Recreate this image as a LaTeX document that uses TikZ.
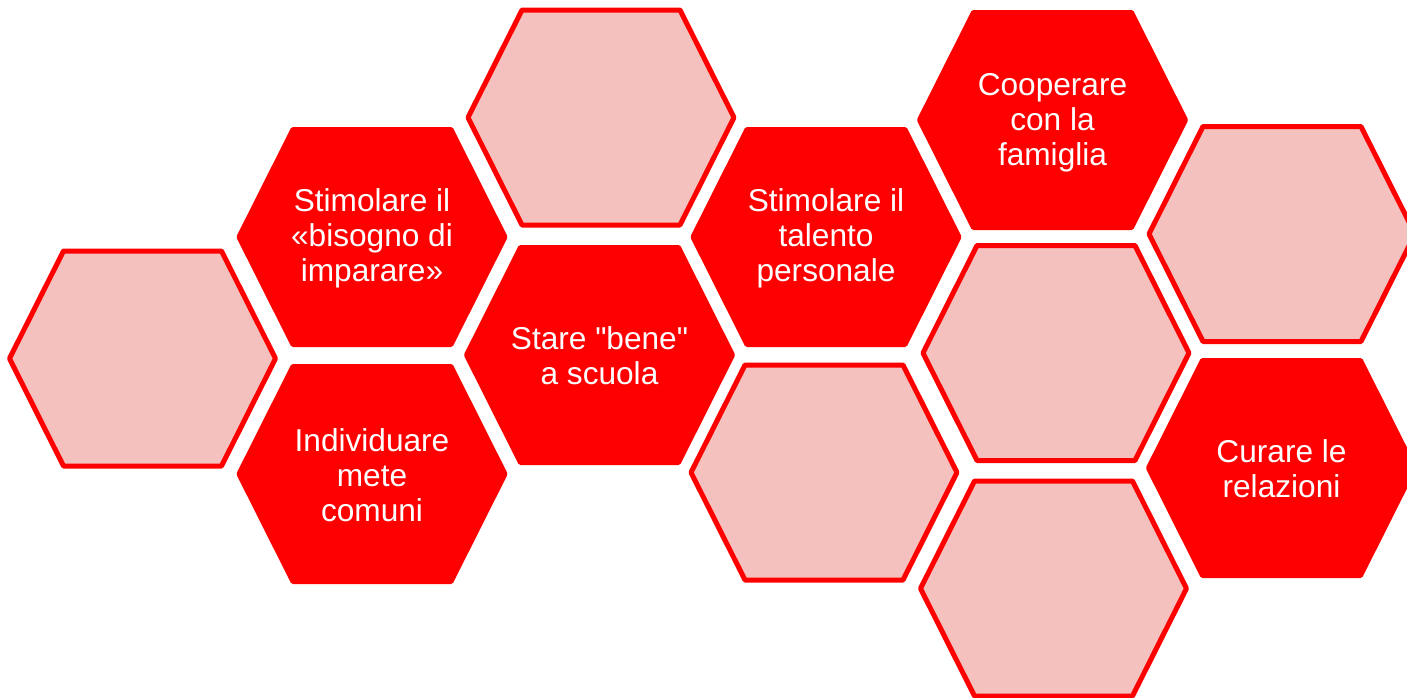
\documentclass[tikz,border=0pt]{standalone}
\usepackage{fontspec}
\setmainfont{Liberation Sans}[Ligatures=TeXOff]
\usepackage{tikz}
\usetikzlibrary{positioning}

\definecolor{hexred}{RGB}{255,0,0}
\definecolor{hexpink}{RGB}{245,193,190}

\begin{document}
\begin{tikzpicture}[x=0.02cm,y=-0.02cm,
		fullcell/.style={draw=hexred,fill=hexred,line width=0.1cm,line join=round},
		palecell/.style={draw=hexred,fill=hexpink,line width=0.1cm,line join=round},
		celltext/.style={text=white,align=center,inner sep=0pt,font=\fontsize{18}{20}\selectfont}]

	\useasboundingbox (0,0) rectangle (1407,697);

	% the honeycomb
	\foreach \x/\y/\kind in {142.5/358.5/palecell, 372/237/fullcell, 372/474/fullcell,
			601/117.5/palecell, 599.5/355/fullcell, 826/237/fullcell, 824/472.5/palecell,
			1052.5/120/fullcell, 1056/353/palecell, 1053.5/588.5/palecell,
			1282/234/palecell, 1281.5/468/fullcell}
		\draw[\kind] (\x,\y) +(-133,0) -- +(-79,-107.5) -- +(79,-107.5)
			-- +(133,0) -- +(79,107.5) -- +(-79,107.5) -- cycle;

	\node[celltext] (bisogno) at (372,238.5) {Stimolare il\\«bisogno di\\imparare»};
	\node[celltext] (mete) at (372,475) {Individuare\\mete\\comuni};
	\node[celltext] (scuola) at (599.5,356) {Stare "bene"\\a scuola};
	\node[celltext] (talento) at (826,238.5) {Stimolare il\\talento\\personale};
	\node[celltext] (famiglia) at (1052.5,122.5) {Cooperare\\con la\\famiglia};
	\node[celltext] (relazioni) at (1281.5,469) {Curare le\\relazioni};
\end{tikzpicture}
\end{document}
